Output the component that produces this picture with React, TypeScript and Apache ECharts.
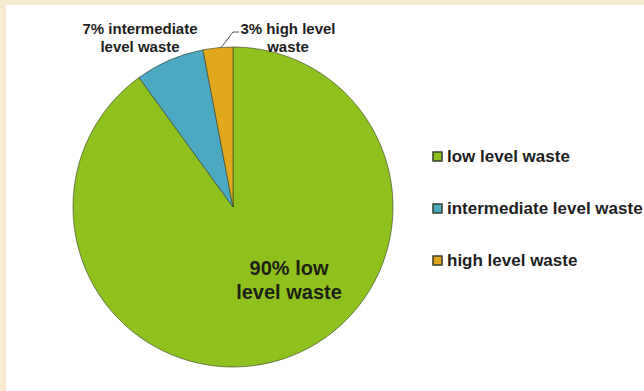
import React, { useEffect, useRef } from "react";
import * as echarts from "echarts";

const categories = ["low level waste", "intermediate level waste", "high level waste"];
const values = [90, 7, 3];
const sliceLabels = ["90% low\nlevel waste", "7% intermediate\nlevel waste", "3% high level\nwaste"];
const colors = ["#8fc11e", "#4ba9c2", "#e2a81d"];

export default function App() {
  const ref = useRef<HTMLDivElement>(null);
  useEffect(() => {
    if (!ref.current) return;
    const chart = echarts.init(ref.current, undefined, { renderer: "svg" });
    const fontFamily = "'Liberation Sans', Arial, sans-serif";
    const labelPos: Record<number, [number, number]> = {
      0: [289, 280],
      1: [140, 37],
      2: [288, 37],
    };
    chart.setOption({
      animation: false,
      backgroundColor: "transparent",
      legend: {
        orient: "vertical",
        left: 432,
        top: 148,
        padding: 0,
        itemWidth: 9,
        itemHeight: 9,
        itemGap: 35,
        icon: "rect",
        data: categories,
        textStyle: {
          fontFamily,
          fontSize: 17,
          fontWeight: "bold",
          color: "#1e1e1e",
          lineHeight: 17,
        },
      },
      series: [
        {
          type: "pie",
          center: [233, 207],
          radius: 160,
          startAngle: 90,
          clockwise: true,
          silent: true,
          itemStyle: {
            borderColor: "rgba(50,60,40,0.75)",
            borderWidth: 0.8,
          },
          labelLayout: (params: any) => {
            const p = labelPos[params.dataIndex];
            const res: any = { x: p[0], y: p[1], align: "center", verticalAlign: "middle" };
            if (params.dataIndex === 2) {
              res.labelLinePoints = [
                [220, 49],
                [233, 32],
                [239, 32],
              ];
            }
            return res;
          },
          labelLine: {
            show: true,
            length: 8,
            length2: 4,
            lineStyle: { color: "#555", width: 1 },
          },
          data: categories.map((c, i) => ({
            name: c,
            value: values[i],
            itemStyle: { color: colors[i] },
            label:
              i === 0
                ? {
                    show: true,
                    position: "inside",
                    formatter: sliceLabels[i],
                    fontFamily,
                    fontSize: 20,
                    fontWeight: "bold",
                    lineHeight: 24,
                    color: "#1c1f14",
                    overflow: "none",
                  }
                : {
                    show: true,
                    position: "outside",
                    formatter: sliceLabels[i],
                    fontFamily,
                    fontSize: 15,
                    fontWeight: "bold",
                    lineHeight: 18,
                    color: "#1e1e1e",
                    overflow: "none",
                    width: 200,
                  },
            labelLine: { show: i === 2 },
          })),
        },
      ],
    });
    return () => chart.dispose();
  }, []);

  return (
    <div style={{ position: "fixed", left: 0, top: 0, width: 644, height: 391, background: "#f5ead0", overflow: "hidden" }}>
      <div style={{ position: "absolute", left: 6, top: 5, width: 638, height: 386, background: "#ffffff" }} />
      <div ref={ref} style={{ position: "absolute", left: 0, top: 0, width: 644, height: 391 }} />
    </div>
  );
}
